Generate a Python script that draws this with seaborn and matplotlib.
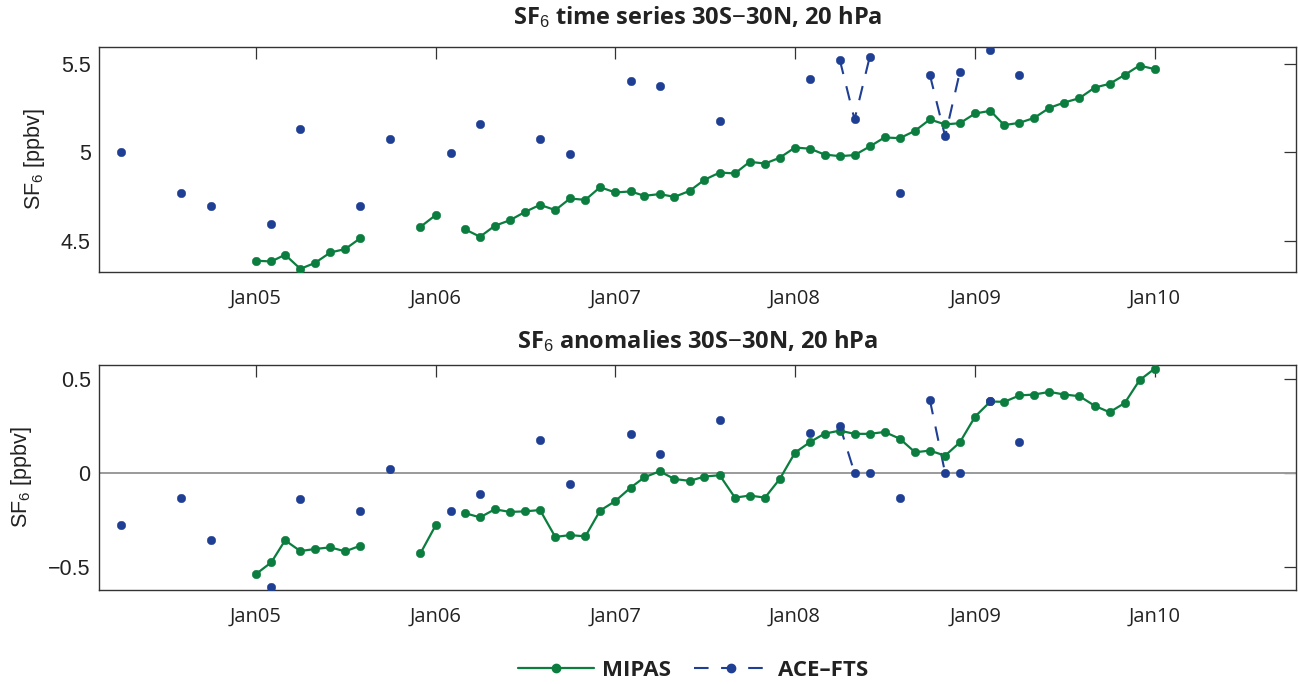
import numpy as np
import pandas as pd
import matplotlib
matplotlib.use("Agg")
import matplotlib.pyplot as plt
from matplotlib.lines import Line2D
import seaborn as sns

nan = np.nan

# ---------------- data ----------------
mipas_start = "2005-01-01"
mipas_ts = [
    4.386, 4.382, 4.420, 4.340, 4.374, 4.433, 4.452, 4.514, nan, nan, nan, 4.578,
    4.645, nan, 4.565, 4.522, 4.584, 4.616, 4.662, 4.703, 4.673, 4.739, 4.731, 4.803,
    4.773, 4.779, 4.754, 4.764, 4.748, 4.782, 4.845, 4.886, 4.881, 4.947, 4.937, 4.970,
    5.028, 5.021, 4.988, 4.979, 4.985, 5.034, 5.085, 5.081, 5.123, 5.187, 5.159, 5.166,
    5.221, 5.236, 5.155, 5.168, 5.196, 5.253, 5.283, 5.308, 5.368, 5.389, 5.440, 5.493,
    5.472,
]
mipas_anom = [
    -0.537, -0.475, -0.358, -0.415, -0.404, -0.395, -0.417, -0.386, nan, nan, nan, -0.427,
    -0.278, nan, -0.213, -0.236, -0.193, -0.207, -0.204, -0.197, -0.340, -0.330, -0.337, -0.200,
    -0.149, -0.078, -0.023, 0.009, -0.032, -0.042, -0.019, -0.012, -0.131, -0.120, -0.131, -0.032,
    0.108, 0.165, 0.209, 0.225, 0.208, 0.208, 0.218, 0.182, 0.110, 0.119, 0.092, 0.163,
    0.300, 0.380, 0.378, 0.412, 0.417, 0.431, 0.417, 0.408, 0.357, 0.323, 0.372, 0.493,
    0.555,
]
ace_start = "2004-04-01"
ace_ts = [
    5.000, nan, nan, nan, 4.771, nan, 4.699, nan, nan,
    nan, 4.597, nan, 5.134, nan, nan, nan, 4.699, nan, 5.075, nan, nan,
    nan, 4.998, nan, 5.164, nan, nan, nan, 5.075, nan, 4.994, nan, nan,
    nan, 5.404, nan, 5.376, nan, nan, nan, 5.181, nan, nan, nan, nan,
    nan, 5.414, nan, 5.525, 5.187, 5.544, nan, 4.771, nan, 5.440, 5.092, 5.457,
    nan, 5.580, nan, 5.442,
]
ace_anom = [
    -0.276, nan, nan, nan, -0.131, nan, -0.354, nan, nan,
    nan, -0.604, nan, -0.140, nan, nan, nan, -0.202, nan, 0.023, nan, nan,
    nan, -0.202, nan, -0.110, nan, nan, nan, 0.174, nan, -0.058, nan, nan,
    nan, 0.206, nan, 0.103, nan, nan, nan, 0.284, nan, nan, nan, nan,
    nan, 0.215, nan, 0.252, 0.000, 0.000, nan, -0.131, nan, 0.388, 0.000, 0.000,
    nan, 0.381, nan, 0.167,
]
series_names = ["MIPAS", "ACE\u2013FTS"]
panel_titles = [r"SF$_6$ time series 30S$-$30N, 20 hPa",
                r"SF$_6$ anomalies 30S$-$30N, 20 hPa"]
ylabel = r"SF$_6$ [ppbv]"
tick_dates = ["2005-01-01", "2006-01-01", "2007-01-01", "2008-01-01", "2009-01-01", "2010-01-01"]
tick_labels = ["Jan05", "Jan06", "Jan07", "Jan08", "Jan09", "Jan10"]
yticks_top = [4.5, 5.0, 5.5]
yticklabels_top = ["4.5", "5", "5.5"]
yticks_bot = [-0.5, 0.0, 0.5]
yticklabels_bot = ["\u22120.5", "0", "0.5"]

# ---------------- style ----------------
GREEN = "#0b7d3e"
BLUE = "#1f3f94"
SPINE = "#333333"
TXT = "#222222"
HUMANIST = ["Open Sans", "DejaVu Sans"]

sns.set_style("white")
plt.rcParams["font.family"] = ["Liberation Sans", "DejaVu Sans"]
plt.rcParams["mathtext.fontset"] = "custom"
plt.rcParams["mathtext.rm"] = "Liberation Sans"
plt.rcParams["mathtext.it"] = "Liberation Sans:italic"
plt.rcParams["mathtext.bf"] = "Liberation Sans:bold"


def frame(start, values, name):
    dates = pd.date_range(start, periods=len(values), freq="MS")
    df = pd.DataFrame({"date": dates, "value": values, "series": name})
    df["seg"] = df["value"].isna().cumsum()
    return df.dropna().reset_index(drop=True)


fig = plt.figure(figsize=(12.98, 6.84), dpi=100)
ax1 = fig.add_axes([0.0763, 0.6023, 0.9222, 0.3290])
ax2 = fig.add_axes([0.0763, 0.1374, 0.9222, 0.3290])

panels = [
    (ax1, mipas_ts, ace_ts, (4.322, 5.598), yticks_top, yticklabels_top, panel_titles[0], 16.5),
    (ax2, mipas_anom, ace_anom, (-0.622, 0.574), yticks_bot, yticklabels_bot, panel_titles[1], 12.5),
]

xlim = (pd.Timestamp("2004-02-17"), pd.Timestamp("2010-10-15"))
DASH = (0, (7, 6))

for ax, mv, av, ylim, yt, ytl, title, tpad in panels:
    dm = frame(mipas_start, mv, series_names[0])
    da = frame(ace_start, av, series_names[1])
    if ax is ax2:
        ax.axhline(0, color="#9a9a9a", lw=1.4, zorder=2.2)
    sns.lineplot(data=da, x="date", y="value", units="seg", estimator=None,
                 color=BLUE, lw=1.5, linestyle=DASH, ax=ax, zorder=2,
                 legend=False)
    sns.lineplot(data=dm, x="date", y="value", units="seg", estimator=None,
                 color=GREEN, lw=1.6, marker="o", markersize=6.2,
                 markeredgecolor=GREEN, markeredgewidth=0.3, ax=ax, zorder=3,
                 legend=False)
    sns.scatterplot(data=da, x="date", y="value", color=BLUE, s=38,
                    edgecolor=BLUE, linewidth=0.3, ax=ax, zorder=4, legend=False)

    ax.set_xlim(xlim)
    ax.set_ylim(ylim)
    ax.set_xticks(pd.to_datetime(tick_dates))
    ax.set_xticklabels(tick_labels, fontsize=14.5, family=HUMANIST)
    ax.set_yticks(yt)
    ax.set_yticklabels(ytl, fontsize=15.5)
    ax.set_xlabel("")
    ax.set_ylabel(ylabel, fontsize=15.5, labelpad=10, color=TXT)
    ax.tick_params(axis="both", direction="in", length=8.5, width=0.9,
                   color=SPINE, top=True, right=True, labelcolor=TXT)
    ax.tick_params(axis="x", pad=12)
    ax.tick_params(axis="y", pad=6)
    for sp in ax.spines.values():
        sp.set_color(SPINE)
        sp.set_linewidth(1.0)
        sp.set_visible(True)
    ax.set_title(title, fontsize=17, fontweight="bold", pad=tpad,
                 family=HUMANIST, color=TXT)

handles = [
    Line2D([], [], color=GREEN, lw=1.6, marker="o", markersize=6),
    Line2D([], [], color=BLUE, lw=1.5, linestyle=DASH, marker="o", markersize=6),
]
fig.legend(handles, series_names, loc="center", bbox_to_anchor=(0.534, 0.02),
           ncol=2, frameon=False, handlelength=3.4, columnspacing=1.0,
           handletextpad=0.4, labelcolor=TXT,
           prop={"family": HUMANIST, "weight": "bold", "size": 16})

fig.savefig("out.png", dpi=100)
